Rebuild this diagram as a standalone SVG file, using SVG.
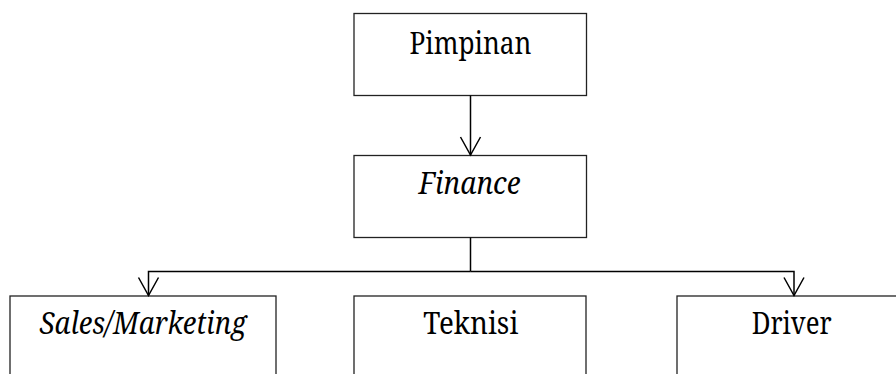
<svg xmlns="http://www.w3.org/2000/svg" width="896" height="374" viewBox="0 0 896 374">
<defs>
<marker id="arr" markerWidth="24" markerHeight="24" refX="19" refY="11" markerUnits="userSpaceOnUse" orient="auto" viewBox="0 0 24 24">
<path d="M1,1 L19,11 L1,21" fill="none" stroke="#000" stroke-width="1.5"/>
</marker>
</defs>
<style>
.box{fill:#fff;stroke:#222;stroke-width:1.3}
.t{font-family:'Noto Serif','DejaVu Serif',serif;font-size:30px;fill:#000;text-anchor:middle}
.i{font-style:italic}
.c{fill:none;stroke:#000;stroke-width:1.5}
</style>
<rect width="896" height="374" fill="#fff"/>
<g id="pimpinan"><rect class="box" x="354" y="13.5" width="232.5" height="82"/><text class="t" x="470.5" y="54" textLength="122" lengthAdjust="spacingAndGlyphs">Pimpinan</text></g>
<g id="finance"><rect class="box" x="354" y="155.5" width="232.5" height="82"/><text class="t i" x="469.5" y="194" textLength="102" lengthAdjust="spacingAndGlyphs">Finance</text></g>
<g id="sales"><rect class="box" x="10" y="296" width="266" height="90"/><text class="t i" x="143" y="334" textLength="207" lengthAdjust="spacingAndGlyphs">Sales/Marketing</text></g>
<g id="teknisi"><rect class="box" x="354" y="296" width="232" height="90"/><text class="t" x="470.8" y="334" textLength="95" lengthAdjust="spacingAndGlyphs">Teknisi</text></g>
<g id="driver"><rect class="box" x="677" y="296" width="240" height="90"/><text class="t" x="791.7" y="334" textLength="80" lengthAdjust="spacingAndGlyphs">Driver</text></g>
<g id="connectors">
<path class="c" d="M470.5,95.5 V155" marker-end="url(#arr)"/>
<path class="c" d="M470.5,237.5 V271.5"/>
<path class="c" d="M470.5,271.5 H148.5 V295.5" marker-end="url(#arr)"/>
<path class="c" d="M470.5,271.5 H794 V295.5" marker-end="url(#arr)"/>
</g>
</svg>
